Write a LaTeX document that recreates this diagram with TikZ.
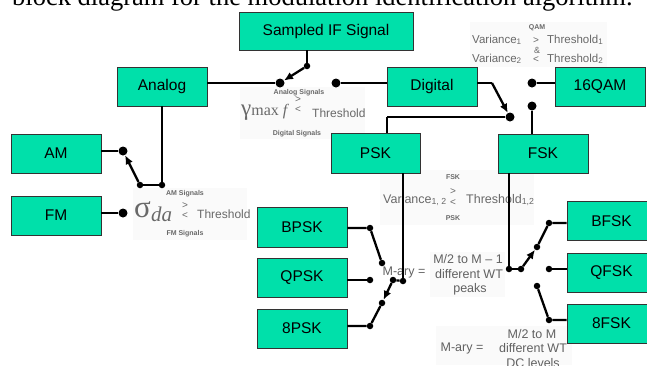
\documentclass[tikz,border=0pt]{standalone}
\usepackage{fontspec}
\setmainfont{Liberation Sans}
\newfontfamily\serifx{Liberation Serif}
\usetikzlibrary{arrows.meta,calc}
\definecolor{boxgreen}{RGB}{0,224,170}
\definecolor{txtgray}{RGB}{105,105,105}
\begin{document}
\begin{tikzpicture}[x=1pt,y=-1pt,
  blk/.style={draw=black!80, line width=0.9pt, fill=boxgreen, minimum width=90pt, minimum height=39pt, inner sep=0pt, font=\fontsize{15.5}{18}\selectfont},
  thk/.style={line width=2.3pt},
  thn/.style={line width=1.2pt},
  arr/.style={line width=2.3pt, -{Latex[length=9pt,width=8pt]}},
  bigdot/.style={circle, fill=black, inner sep=0pt, minimum size=9pt},
  smalldot/.style={circle, fill=black, inner sep=0pt, minimum size=6.5pt},
  gtx/.style={text=txtgray, inner sep=0pt},
  tinyt/.style={gtx, font=\bfseries\fontsize{7}{7}\selectfont},
  frm/.style={gtx, font=\fontsize{12}{13}\selectfont},
  cmp/.style={gtx, font=\fontsize{10}{10}\selectfont},
  mtx/.style={text=black!62, inner sep=0pt, font=\fontsize{12.5}{14}\selectfont},
  pad/.style={fill=black!2, draw=none},
  ]
\useasboundingbox (0,0) rectangle (647,365);
\clip (0,0) rectangle (647,365);

% caption (cut off at the top)
\node[anchor=base west, inner sep=0pt, font=\serifx\fontsize{26.5}{26.5}\selectfont] (cap) at (12,5) {block diagram for the modulation identification algorithm.};

% faint backgrounds of the formula pictures
\fill[pad] (240,87) rectangle (365,139);
\fill[pad] (133,188) rectangle (247,240);
\fill[pad] (470,22) rectangle (607,67);
\fill[pad] (380,170) rectangle (534,225);
\fill[pad] (430,252) rectangle (505,297);
\fill[pad] (436,326) rectangle (572,365);

% gamma max f criterion
\node[tinyt] (ansig) at (299,93) {Analog Signals};
\node[gtx, anchor=base west, font=\serifx\fontsize{23}{23}\selectfont] (gam) at (241,115) {γ\fontsize{16}{16}\selectfont max \textit{f}};
\node[cmp] (g1) at (298,100) {>};
\node[cmp] (g2) at (298,110) {<};
\node[frm, anchor=base west] (gth) at (312,117) {Threshold};
\node[tinyt] (dgsig) at (297,134) {Digital Signals};

% sigma da criterion
\node[tinyt] (amsig) at (185,194) {AM Signals};
\node[gtx, anchor=base west, font=\serifx\fontsize{31}{31}\selectfont] (sig) at (134,217) {σ};
\node[gtx, anchor=base west, font=\serifx\itshape\fontsize{21}{21}\selectfont] (da) at (151,221) {da};
\node[cmp] (s1) at (185,206) {>};
\node[cmp] (s2) at (185,216) {<};
\node[frm, anchor=base west] (sth) at (197,218) {Threshold};
\node[tinyt] (fmsig) at (185,234) {FM Signals};

% QAM criterion
\node[tinyt] (qamt) at (537,28) {QAM};
\node[frm, anchor=base west, font=\fontsize{11.5}{13}\selectfont] (v1) at (472,43) {Variance\textsubscript{1}};
\node[cmp] (q1) at (536,40.5) {>};
\node[frm, anchor=base west, font=\fontsize{11.5}{13}\selectfont] (t1) at (547,43) {Threshold\textsubscript{1}};
\node[gtx, font=\fontsize{9}{9}\selectfont] (amp) at (537,50.5) {\&};
\node[frm, anchor=base west, font=\fontsize{11.5}{13}\selectfont] (v2) at (472,62) {Variance\textsubscript{2}};
\node[cmp] (q2) at (536,60) {<};
\node[frm, anchor=base west, font=\fontsize{11.5}{13}\selectfont] (t2) at (547,62) {Threshold\textsubscript{2}};

% PSK/FSK criterion
\node[tinyt] (fskt) at (453,177) {FSK};
\node[frm, anchor=base west, font=\fontsize{12.5}{14}\selectfont] (v12) at (383,203) {Variance\textsubscript{1, 2}};
\node[cmp] (m1) at (453,192) {>};
\node[cmp] (m2) at (453,203) {<};
\node[frm, anchor=base west, font=\fontsize{12.5}{14}\selectfont] (t12) at (466,203) {Threshold\textsubscript{1,2}};
\node[tinyt] (pskt) at (453,218) {PSK};

% M-ary texts
\node[mtx] (mary1) at (404,272) {M-ary =};
\node[mtx] (pk1) at (468,259) {M/2 to M – 1};
\node[mtx] (pk2) at (469,274) {different WT};
\node[mtx] (pk3) at (470,289) {peaks};
\node[mtx] (dc1) at (532,334) {M/2 to M};
\node[mtx] (mary2) at (462,348) {M-ary =};
\node[mtx] (dc2) at (533,348) {different WT};
\node[mtx] (dc3) at (533,363) {DC levels};

% boxes
\node[blk, minimum width=174pt, minimum height=38pt] (sif) at (326,31) {Sampled IF Signal};
\node[blk] (analog) at (162,86.5) {Analog};
\node[blk] (digital) at (432,86.5) {Digital};
\node[blk] (qam) at (600,86.5) {16QAM};
\node[blk, minimum width=89pt, minimum height=40pt] (psk) at (375.5,153) {PSK};
\node[blk] (fsk) at (543,153.5) {FSK};
\node[blk] (am) at (56,153.5) {AM};
\node[blk] (fm) at (56,215.5) {FM};
\node[blk, minimum height=40pt] (bpsk) at (302,227) {BPSK};
\node[blk] (qpsk) at (302,277.5) {QPSK};
\node[blk] (epsk) at (302,328.5) {8PSK};
\node[blk, minimum width=89pt] (bfsk) at (611.5,221) {BFSK};
\node[blk, minimum width=89pt] (qfsk) at (611.5,272.5) {QFSK};
\node[blk, minimum width=89pt] (efsk) at (611.5,323.5) {8FSK};

% first switch: analog / digital
\node[smalldot] (sp) at (307,66) {};
\node[bigdot] (sa) at (280,83) {};
\node[bigdot] (sd) at (336,83) {};
\draw[thk] (sif.south -| sp) -- (sp);
\draw[arr] (sp) -- (sa);
\draw[thk] (analog.east |- sa) -- (sa);
\draw[thk] (sd) -- (digital.west |- sd);

% analog switch: AM / FM
\node[smalldot] (aj) at (162,185) {};
\node[smalldot] (ap) at (140,185) {};
\node[bigdot] (amc) at (123,151) {};
\node[bigdot] (fmc) at (123,213) {};
\draw[thn] (analog.south) -- (aj);
\draw[thk] (aj) -- (ap);
\draw[arr] (ap) -- (amc);
\draw[thk] (am.east |- amc) -- (amc);
\draw[thk] (fm.east |- fmc) -- (fmc);

% digital switch: PSK / 16QAM / FSK
\coordinate (dj) at (492,83);
\node[bigdot] (pc) at (510,117) {};
\node[bigdot] (qc) at (532,83) {};
\node[bigdot] (fc) at (532,106) {};
\coordinate (pk) at (387,117);
\draw[thn] (digital.east |- dj) -- (dj);
\draw[arr] (dj) -- (pc);
\draw[thk] (pc) -- (pk);
\draw[thn] (pk) -- (psk.north -| pk);
\draw[thk] (qc) -- (qam.west |- qc);
\draw[thk] (fc) -- (fsk.north -| fc);

% PSK switch
\node[smalldot] (pj) at (403,281) {};
\node[smalldot] (pp) at (393,280) {};
\node[smalldot] (b1) at (370,228) {};
\node[smalldot] (b2) at (382,263) {};
\node[smalldot] (c1) at (370,280) {};
\node[smalldot] (e1) at (370,326) {};
\node[smalldot] (e2) at (382,303) {};
\draw[thn] (psk.south -| pj) -- (pj);
\draw[thk] (pj) -- (pp);
\draw[arr] (pp) -- (e2);
\draw[thk] (bpsk.east |- b1) -- (b1) -- (b2);
\draw[thk] (qpsk.east |- c1) -- (c1);
\draw[thk] (epsk.east |- e1) -- (e1) -- (e2);

% FSK switch
\node[smalldot] (fj) at (509,269) {};
\node[smalldot] (fp) at (521,269) {};
\node[smalldot] (f1) at (549,223) {};
\node[smalldot] (f2) at (537,247) {};
\node[smalldot] (g3) at (549,269) {};
\node[smalldot] (h1) at (549,320) {};
\node[smalldot] (h2) at (537,286) {};
\draw[thn] (fsk.south -| fj) -- (fj);
\draw[thk] (fj) -- (fp);
\draw[arr] (fp) -- (f2);
\draw[thk] (bfsk.west |- f1) -- (f1) -- (f2);
\draw[thk] (qfsk.west |- g3) -- (g3);
\draw[thk] (efsk.west |- h1) -- (h1) -- (h2);
\end{tikzpicture}
\end{document}
